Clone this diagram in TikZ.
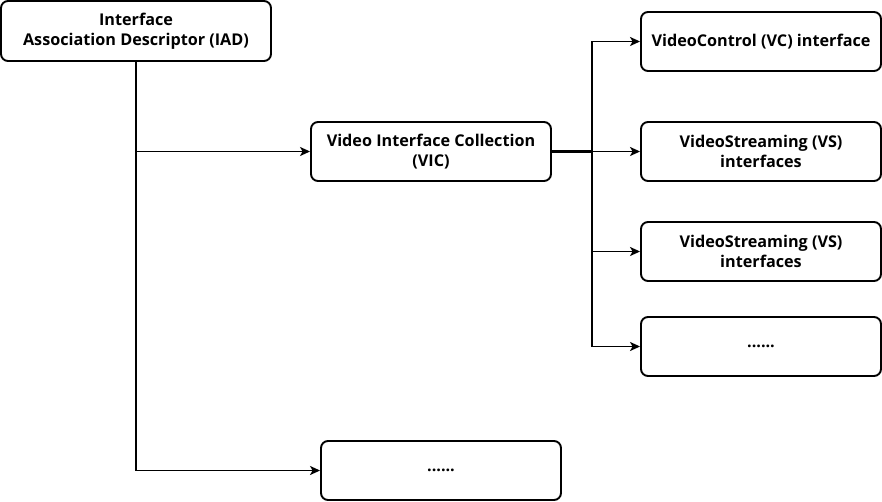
\documentclass[tikz,border=0pt]{standalone}
\usepackage{fontspec}
\setmainfont{Open Sans}
\usetikzlibrary{arrows.meta}
\begin{document}
\begin{tikzpicture}[x=1pt,y=-1pt,
  box/.style={draw, rounded corners=7pt, line width=1.9pt, align=center, font=\bfseries\fontsize{16.2}{20}\selectfont, inner sep=0pt},
  conn/.style={line width=1.7pt, -{Stealth[length=10pt,width=9pt,inset=2.5pt]}},
  trunk/.style={line width=1.7pt}]
\useasboundingbox (0,0) rectangle (882,502);
\node[box, minimum width=270pt, minimum height=60pt] (iad) at (136,31) {Interface\\Association Descriptor (IAD)};
\node[box, minimum width=240pt, minimum height=59pt] (vic) at (431,151.5) {Video Interface Collection\\(VIC)};
\node[box, minimum width=240pt, minimum height=59pt] (vc) at (761,41.5) {VideoControl (VC) interface};
\node[box, minimum width=240pt, minimum height=59pt] (vs1) at (761,151.5) {VideoStreaming (VS)\\interfaces};
\node[box, minimum width=240pt, minimum height=59pt] (vs2) at (761,251.5) {VideoStreaming (VS)\\interfaces};
\node[box, minimum width=240pt, minimum height=59pt] (d1) at (761,346.5) {......};
\node[box, minimum width=240pt, minimum height=59pt] (d2) at (441,470.5) {......};
\coordinate (ja) at (136,151.5);
\coordinate (jb) at (136,470.5);
\coordinate (jr) at (592,151.5);
\draw[trunk] (iad.south) -- (jb);
\draw[conn] (ja) -- (vic.west);
\draw[conn] (jb) -- (d2.west);
\draw[trunk, line width=2.4pt] (vic.east) -- (jr);
\draw[conn] (jr) |- (vc.west);
\draw[conn] (jr) -- (vs1.west);
\draw[conn] (jr) |- (vs2.west);
\draw[conn] (jr) |- (d1.west);
\end{tikzpicture}
\end{document}
